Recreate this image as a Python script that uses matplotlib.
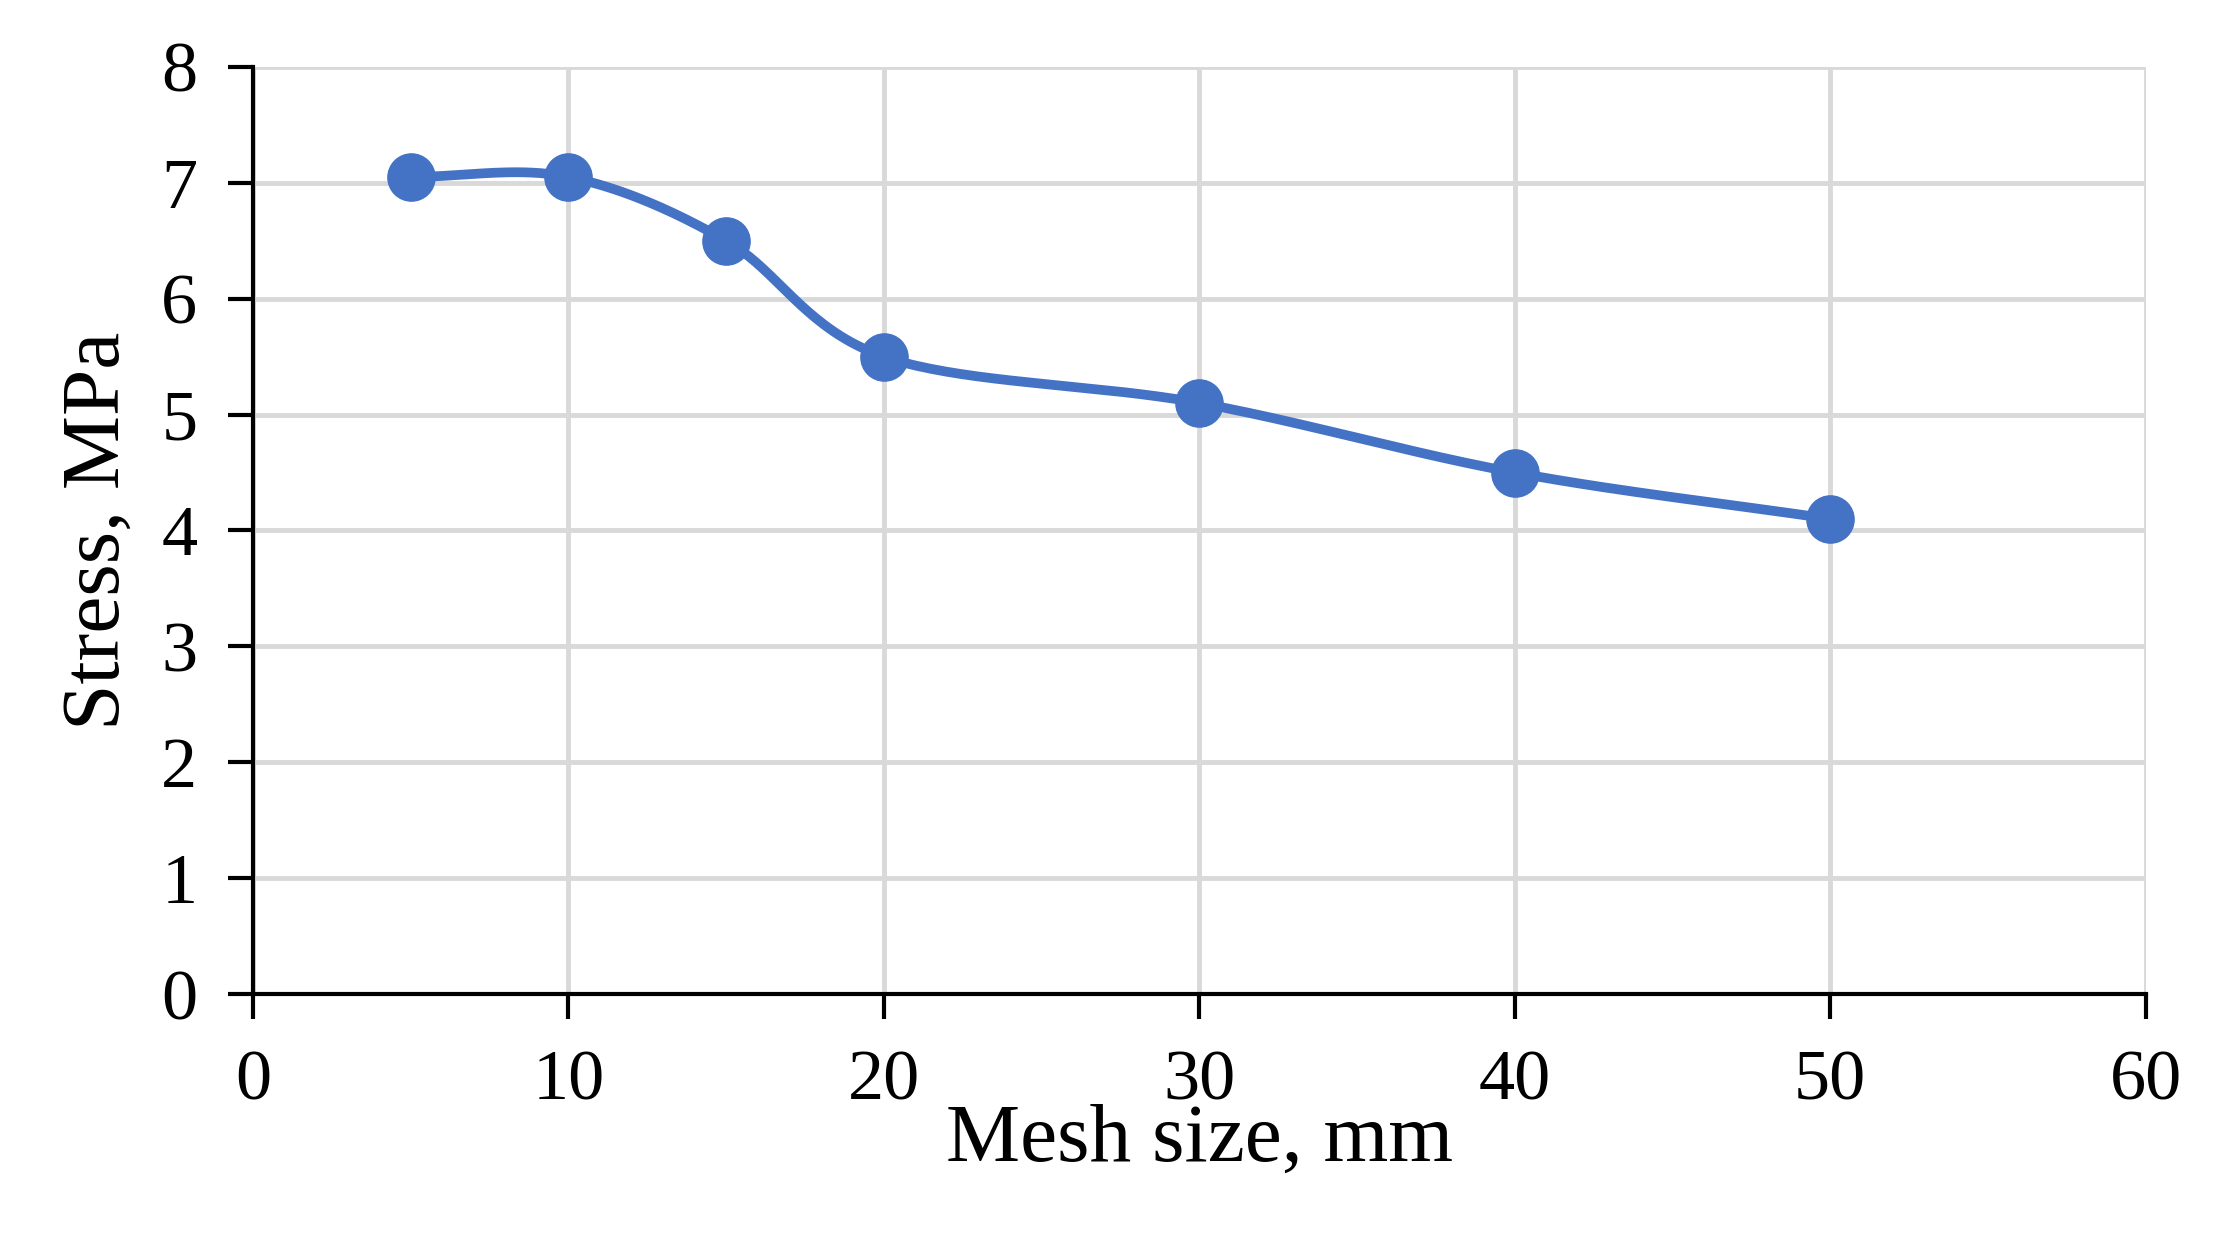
import numpy as np
import matplotlib
matplotlib.use("Agg")
import matplotlib.pyplot as plt

mesh = [5, 10, 15, 20, 30, 40, 50]
stress = [7.05, 7.05, 6.5, 5.5, 5.1, 4.5, 4.1]

def catmull(x, y, n=40):
    x = np.asarray(x, float); y = np.asarray(y, float)
    px = np.concatenate([[2*x[0]-x[1]], x, [2*x[-1]-x[-2]]])
    py = np.concatenate([[2*y[0]-y[1]], y, [2*y[-1]-y[-2]]])
    ox, oy = [], []
    t = np.linspace(0, 1, n)
    for i in range(1, len(px)-2):
        for p, o in ((px, ox), (py, oy)):
            p0, p1, p2, p3 = p[i-1], p[i], p[i+1], p[i+2]
            o.extend(0.5*((2*p1) + (-p0+p2)*t + (2*p0-5*p1+4*p2-p3)*t**2 + (-p0+3*p1-3*p2+p3)*t**3))
    return ox, oy

plt.rcParams['font.family'] = ['Liberation Serif', 'DejaVu Serif']
fig = plt.figure(figsize=(22.19, 12.38), dpi=100)
ax = fig.add_axes([0.114, 0.197, 0.853, 0.749])
sx, sy = catmull(mesh, stress)
ax.plot(sx, sy, color='#4472C4', lw=7, zorder=3)
ax.plot(mesh, stress, 'o', color='#4472C4', ms=34, zorder=4)
ax.set_xlim(0, 60); ax.set_ylim(0, 8)
ax.set_xticks(range(0, 61, 10)); ax.set_yticks(range(0, 9))
ax.grid(True, color='#D9D9D9', lw=3.5, zorder=0)
ax.set_axisbelow(True)
for s in ('top', 'right'):
    ax.spines[s].set_visible(False)
for s in ('left', 'bottom'):
    ax.spines[s].set_linewidth(3)
ax.tick_params(direction='out', length=18, width=3, labelsize=52, pad=22)
ax.set_xlabel('Mesh size, mm', fontsize=60, labelpad=-8)
ax.set_ylabel('Stress, MPa', fontsize=60, labelpad=18)
fig.savefig('out.png', dpi=100)
